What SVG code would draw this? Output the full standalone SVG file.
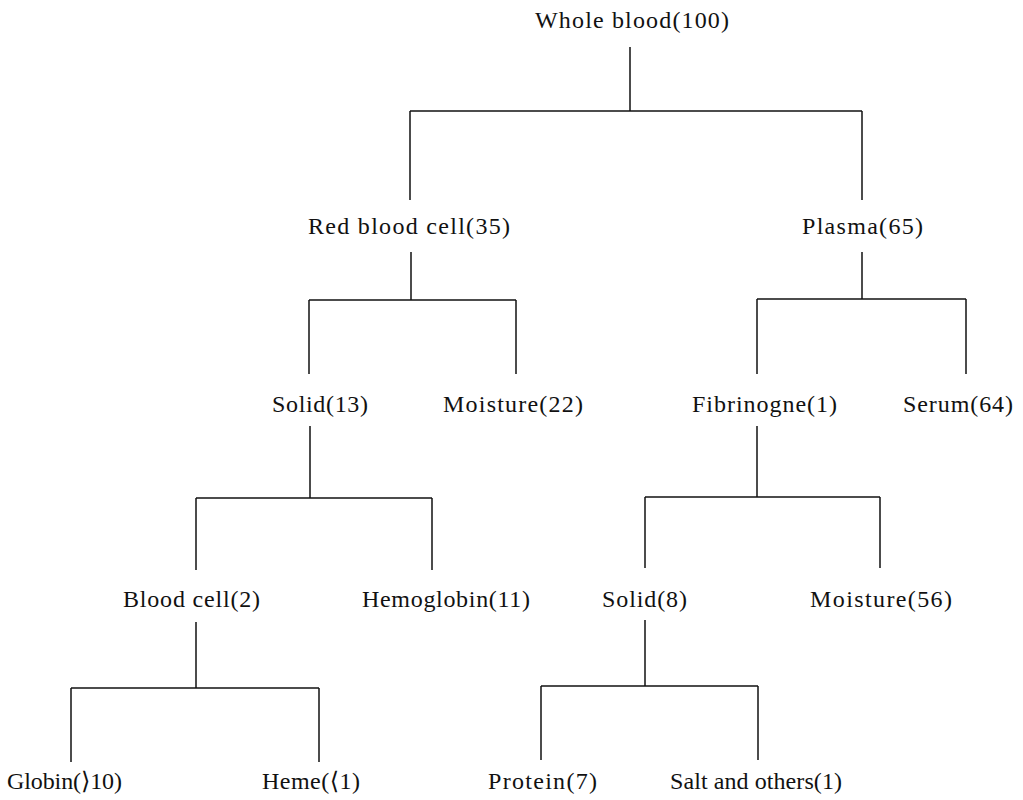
<svg xmlns="http://www.w3.org/2000/svg" width="1023" height="800" viewBox="0 0 1023 800">
<style>
text{font-family:"Liberation Serif","DejaVu Serif",serif;font-size:24px;fill:#111}
.c line{stroke:#111;stroke-width:1.5}
</style>
<rect width="1023" height="800" fill="#fff"/>
<g class="c" id="connectors">
<line x1="630" y1="47" x2="630" y2="111"/>
<line x1="410" y1="111" x2="862" y2="111"/>
<line x1="410" y1="111" x2="410" y2="200"/>
<line x1="862" y1="111" x2="862" y2="200"/>
<line x1="411" y1="252" x2="411" y2="300"/>
<line x1="309" y1="300" x2="516" y2="300"/>
<line x1="309" y1="300" x2="309" y2="374"/>
<line x1="516" y1="300" x2="516" y2="374"/>
<line x1="862" y1="252" x2="862" y2="299"/>
<line x1="757" y1="299" x2="966" y2="299"/>
<line x1="757" y1="299" x2="757" y2="374"/>
<line x1="966" y1="299" x2="966" y2="374"/>
<line x1="310" y1="426" x2="310" y2="498"/>
<line x1="196" y1="498" x2="432" y2="498"/>
<line x1="196" y1="498" x2="196" y2="570"/>
<line x1="432" y1="498" x2="432" y2="570"/>
<line x1="757" y1="426" x2="757" y2="497"/>
<line x1="645" y1="497" x2="880" y2="497"/>
<line x1="645" y1="497" x2="645" y2="568"/>
<line x1="880" y1="497" x2="880" y2="568"/>
<line x1="196" y1="622" x2="196" y2="688"/>
<line x1="71" y1="688" x2="319" y2="688"/>
<line x1="71" y1="688" x2="71" y2="762"/>
<line x1="319" y1="688" x2="319" y2="762"/>
<line x1="645" y1="620" x2="645" y2="686"/>
<line x1="541" y1="686" x2="758" y2="686"/>
<line x1="541" y1="686" x2="541" y2="760"/>
<line x1="758" y1="686" x2="758" y2="760"/>
</g>
<g id="whole"><text x="535" y="28" textLength="194" lengthAdjust="spacing">Whole blood(100)</text></g>
<g id="rbc"><text x="308" y="234" textLength="202" lengthAdjust="spacing">Red blood cell(35)</text></g>
<g id="plasma"><text x="802" y="234" textLength="121" lengthAdjust="spacing">Plasma(65)</text></g>
<g id="solid13"><text x="272" y="412" textLength="96" lengthAdjust="spacing">Solid(13)</text></g>
<g id="moist22"><text x="443" y="412" textLength="140" lengthAdjust="spacing">Moisture(22)</text></g>
<g id="fibr"><text x="692" y="412" textLength="145" lengthAdjust="spacing">Fibrinogne(1)</text></g>
<g id="serum"><text x="903" y="412" textLength="110" lengthAdjust="spacing">Serum(64)</text></g>
<g id="bcell"><text x="123" y="607" textLength="137" lengthAdjust="spacing">Blood cell(2)</text></g>
<g id="hemo"><text x="362" y="607" textLength="168" lengthAdjust="spacing">Hemoglobin(11)</text></g>
<g id="solid8"><text x="602" y="607" textLength="85" lengthAdjust="spacing">Solid(8)</text></g>
<g id="moist56"><text x="810" y="607" textLength="142" lengthAdjust="spacing">Moisture(56)</text></g>
<g id="globin"><text x="7" y="789" textLength="115" lengthAdjust="spacing">Globin(⟩10)</text></g>
<g id="heme"><text x="262" y="789" textLength="98" lengthAdjust="spacing">Heme(⟨1)</text></g>
<g id="protein"><text x="488" y="789" textLength="109" lengthAdjust="spacing">Protein(7)</text></g>
<g id="salt"><text x="670" y="789" textLength="172" lengthAdjust="spacing">Salt and others(1)</text></g>
</svg>
